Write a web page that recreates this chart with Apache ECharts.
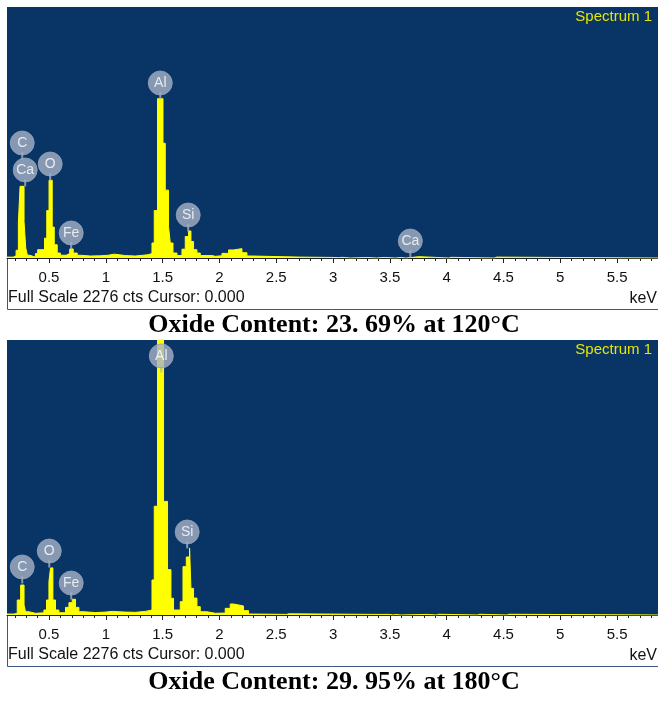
<!DOCTYPE html>
<html>
<head>
<meta charset="utf-8">
<script src="https://cdn.jsdelivr.net/npm/echarts@6/dist/echarts.min.js"></script>
<style>
    html, body { margin: 0; padding: 0; background: #fff; }
    #chart { width: 658px; height: 702px; }
</style>
</head>
<body>
<div id="chart"></div>
<script>
// 能谱（EDS）数据：[能量 keV, 计数]，阶梯断点，每个计数保持到下一个能量
const spectrum120 = [
    [0.13, 8], [0.185, 20], [0.21, 70], [0.23, 320], [0.245, 650], [0.28, 330], [0.295, 90],
    [0.31, 25], [0.33, 8], [0.38, 40], [0.40, 75], [0.46, 180], [0.48, 430], [0.50, 705],
    [0.528, 280], [0.546, 120], [0.572, 45], [0.60, 25], [0.651, 40], [0.682, 82], [0.713, 45],
    [0.748, 25], [0.775, 18], [0.863, 20], [0.951, 25], [1.021, 35], [1.074, 22], [1.171, 18],
    [1.259, 25], [1.329, 30], [1.373, 40], [1.406, 136], [1.426, 430], [1.455, 1445],
    [1.503, 1040], [1.523, 615], [1.552, 285], [1.567, 136], [1.591, 45], [1.626, 22],
    [1.67, 80], [1.699, 195], [1.728, 245], [1.749, 150], [1.772, 75], [1.802, 45], [1.831, 22],
    [1.934, 15], [1.963, 20], [2.022, 42], [2.08, 73], [2.124, 85], [2.198, 48], [2.242, 18],
    [2.286, 8], [2.71, 5], [3.0, 3], [3.05, 6], [3.08, 0], [3.15, 5], [3.3, 0], [3.38, 5],
    [3.45, 0], [3.55, 5], [3.60, 0], [3.64, 8], [3.72, 12], [3.76, 0], [4.02, 6], [4.04, 0],
    [4.42, 8], [4.44, 0], [5.86, 0]
];
const spectrum180 = [
    [0.13, 8], [0.19, 14], [0.22, 124], [0.25, 248], [0.28, 83], [0.293, 27], [0.323, 14],
    [0.38, 18], [0.455, 41], [0.478, 124], [0.499, 276], [0.513, 390], [0.534, 124],
    [0.557, 41], [0.587, 19], [0.645, 63], [0.675, 102], [0.704, 130], [0.733, 63], [0.763, 27],
    [0.807, 20], [0.907, 24], [0.995, 30], [1.056, 24], [1.171, 22], [1.259, 30], [1.347, 41],
    [1.406, 290], [1.426, 900], [1.455, 2290], [1.508, 940], [1.543, 375], [1.573, 138],
    [1.596, 41], [1.655, 110], [1.679, 400], [1.708, 480], [1.737, 555], [1.749, 220],
    [1.772, 140], [1.802, 69], [1.831, 27], [1.89, 14], [1.963, 16], [2.051, 55], [2.095, 91],
    [2.124, 75], [2.212, 36], [2.256, 8], [2.30, 5], [2.59, 10], [2.61, 5], [3.35, 0], [3.36, 5],
    [3.50, 0], [3.53, 5], [3.55, 0], [3.59, 5], [3.83, 0], [3.91, 6], [3.93, 0], [4.27, 6],
    [4.29, 0], [4.53, 6], [4.55, 0], [5.86, 0]
];

// 元素标注：名称、能量、指针所指计数、叠放层级
const peakNames120 = ['C', 'Ca', 'O', 'Fe', 'Al', 'Si', 'Ca'];
const peakEnergy120 = [0.264, 0.29, 0.51, 0.695, 1.479, 1.725, 3.68];
const peakCounts120 = [653, 653, 707, 82, 1442, 245, 9];
const peakLevel120 = [1, 0, 0, 0, 0, 0, 0];

const peakNames180 = ['C', 'O', 'Fe', 'Al', 'Si'];
const peakEnergy180 = [0.264, 0.502, 0.695, 1.488, 1.716];
const peakCounts180 = [265, 397, 132, 2012, 555];
const peakLevel180 = [0, 0, 0, 0, 0];

// 坐标轴
const tickLabels = ['0.5', '1', '1.5', '2', '2.5', '3', '3.5', '4', '4.5', '5', '5.5'];
const xMin = 0.13;
const xMax = 5.86;
const fullScale = 2276;

const captions = ['Oxide Content: 23. 69% at 120\u00b0C', 'Oxide Content: 29. 95% at 180\u00b0C'];

const majorTicks = tickLabels.map(Number);
const minorTicks = [];
for (let i = 2; i <= 58; i++) {
    if (i % 5 !== 0) minorTicks.push(i / 10);
}

const bg = '#093466';
const sans = 'Liberation Sans';

// 两个面板的像素位置
const panels = [
    { top: 7, height: 251 },
    { top: 340, height: 275 }
];

function makeXAxes(gridIndex) {
    return [
        {
            gridIndex, type: 'value', min: xMin, max: xMax, position: 'bottom',
            axisLine: { show: true, lineStyle: { color: '#222', width: 1 } },
            axisTick: { show: true, customValues: majorTicks, length: 5, lineStyle: { color: '#222' } },
            axisLabel: {
                show: true, customValues: majorTicks, margin: 12,
                fontFamily: sans, fontSize: 15, color: '#111',
                formatter: (v) => tickLabels[majorTicks.indexOf(v)] || String(v)
            },
            splitLine: { show: false }
        },
        {
            gridIndex, type: 'value', min: xMin, max: xMax, position: 'bottom',
            axisLine: { show: false },
            axisTick: { show: true, customValues: minorTicks, length: 3, lineStyle: { color: '#222' } },
            axisLabel: { show: false },
            splitLine: { show: false }
        }
    ];
}

function labelSeries(axisIdx, names, energy, counts, level) {
    const circles = names.map((n, i) => ({
        value: [energy[i], counts[i]],
        symbolOffset: [0, -16 - level[i] * 27],
        label: { formatter: n }
    }));
    const pointers = names.map((n, i) => ({
        value: [energy[i], counts[i]],
        symbolOffset: [0, -3 - level[i] * 27]
    }));
    return [
        {
            type: 'scatter', xAxisIndex: axisIdx, yAxisIndex: axisIdx / 2,
            data: pointers, symbol: 'rect', symbolSize: [2, 7],
            itemStyle: { color: '#a8b3c6' }, silent: true, z: 3
        },
        {
            type: 'scatter', xAxisIndex: axisIdx, yAxisIndex: axisIdx / 2,
            data: circles, symbol: 'circle', symbolSize: 24,
            itemStyle: { color: '#a8b3c6', borderColor: '#95a1b6', borderWidth: 1 },
            label: {
                show: true, position: 'inside', color: '#fff',
                fontFamily: sans, fontSize: 14
            },
            silent: true, z: 4
        }
    ];
}

function spectrumSeries(axisIdx, data) {
    return {
        type: 'line', xAxisIndex: axisIdx, yAxisIndex: axisIdx / 2,
        data: data, step: 'end', showSymbol: false, clip: true,
        lineStyle: { color: '#ffff00', width: 1 },
        areaStyle: { color: '#ffff00', opacity: 1 },
        z: 2
    };
}

function panelGraphics(p, caption) {
    const base = p.top + p.height;
    return [
        {
            type: 'polyline',
            shape: { points: [[7.5, base], [7.5, base + 51.5], [658, base + 51.5]] },
            style: { stroke: '#3a5580', lineWidth: 1, fill: null }
        },
        {
            type: 'text', x: 8, y: base + 40,
            style: {
                text: 'Full Scale 2276 cts Cursor: 0.000', font: '16px "' + sans + '"',
                fill: '#111', textAlign: 'left', textVerticalAlign: 'middle'
            }
        },
        {
            type: 'text', x: 657, y: base + 41,
            style: {
                text: 'keV', font: '16px "' + sans + '"',
                fill: '#111', textAlign: 'right', textVerticalAlign: 'middle'
            }
        },
        {
            type: 'text', x: 652, y: p.top + 10,
            style: {
                text: 'Spectrum 1', font: '15px "' + sans + '"',
                fill: '#e6e600', textAlign: 'right', textVerticalAlign: 'middle'
            }
        },
        {
            type: 'text', x: 334, y: base + 67,
            style: {
                text: caption, font: 'bold 26px "Liberation Serif"',
                fill: '#000', textAlign: 'center', textVerticalAlign: 'middle'
            }
        }
    ];
}

const chart = echarts.init(document.getElementById('chart'), null, { renderer: 'canvas' });

chart.setOption({
    animation: false,
    backgroundColor: '#fff',
    grid: panels.map(p => ({
        left: 7, top: p.top, width: 651, height: p.height,
        show: true, backgroundColor: bg, borderWidth: 0
    })),
    xAxis: [...makeXAxes(0), ...makeXAxes(1)],
    yAxis: panels.map((p, i) => ({
        gridIndex: i, type: 'value', min: 0, max: fullScale, show: false
    })),
    series: [
        spectrumSeries(0, spectrum120),
        ...labelSeries(0, peakNames120, peakEnergy120, peakCounts120, peakLevel120),
        spectrumSeries(2, spectrum180),
        ...labelSeries(2, peakNames180, peakEnergy180, peakCounts180, peakLevel180)
    ],
    graphic: [
        ...panelGraphics(panels[0], captions[0]),
        ...panelGraphics(panels[1], captions[1])
    ]
});
</script>
</body>
</html>
